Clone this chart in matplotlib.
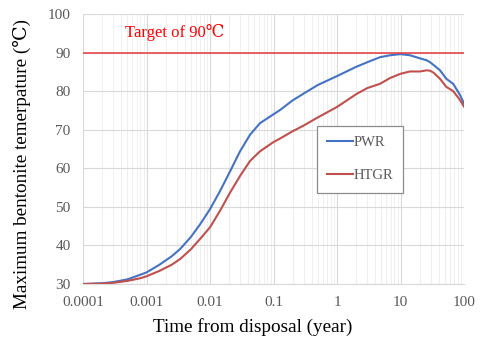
import numpy as np
import matplotlib.pyplot as plt
from matplotlib.ticker import FixedLocator, FixedFormatter, NullFormatter

plt.rcParams['font.family'] = ['Liberation Serif', 'DejaVu Serif', 'Noto Sans CJK JP']

# time (year) and max bentonite temperature (C)
t = [0.0001, 0.0002, 0.0003, 0.0005, 0.0008, 0.001, 0.0016, 0.0025, 0.0034,
     0.0050, 0.0070, 0.010, 0.0144, 0.0207, 0.0297, 0.0427, 0.0613, 0.1,
     0.1265, 0.2, 0.3, 0.5, 1, 2, 3, 4.75, 6.84, 10, 14.1, 20.3, 25.9,
     29.2, 33.1, 41.9, 52.7, 67.6, 86.5, 100]
pwr = [30.0, 30.2, 30.5, 31.2, 32.4, 33.0, 35.0, 37.2, 39.1,
       42.2, 45.5, 49.4, 54.1, 59.2, 64.4, 68.7, 71.7, 74.0,
       75.1, 77.6, 79.4, 81.6, 83.9, 86.3, 87.5, 88.8, 89.3, 89.6, 89.3, 88.5, 88.0,
       87.5, 86.8, 85.4, 83.2, 81.9, 79.0, 76.8]
htgr = [30.0, 30.1, 30.3, 30.8, 31.5, 32.0, 33.4, 35.0, 36.5,
        39.0, 41.7, 44.7, 49.0, 53.7, 58.0, 61.9, 64.4, 66.8,
        67.7, 69.6, 71.1, 73.2, 75.9, 79.2, 80.8, 81.9, 83.4, 84.5, 85.1, 85.1, 85.4,
        85.3, 84.8, 83.2, 81.1, 80.0, 77.7, 76.0]
target = 90

xticks = [0.0001, 0.001, 0.01, 0.1, 1, 10, 100]
xlabels = ['0.0001', '0.001', '0.01', '0.1', '1', '10', '100']
yticks = [30, 40, 50, 60, 70, 80, 90, 100]

fig = plt.figure(figsize=(4.88, 3.46), dpi=100)
ax = fig.add_axes([83/488, 1-284/346, (464-83)/488, (284-14)/346])

ax.set_xscale('log')
ax.set_xlim(0.0001, 100)
ax.set_ylim(30, 100)

ax.grid(True, which='major', color='#d9d9d9', lw=0.8)
ax.grid(True, which='minor', axis='x', color='#ececec', lw=0.6)
ax.set_axisbelow(True)

ax.plot(t, pwr, color='#4472C4', lw=1.5, label='PWR')
ax.plot(t, htgr, color='#C0504D', lw=1.5, label='HTGR')
ax.axhline(target, color='#E8383A', lw=1.1)
ax.text(0.00281, 95.1, 'Target of 90℃', color='#FF0000', fontsize=12, ha='center', va='center')

ax.xaxis.set_major_locator(FixedLocator(xticks))
ax.xaxis.set_major_formatter(FixedFormatter(xlabels))
ax.xaxis.set_minor_formatter(NullFormatter())
ax.set_yticks(yticks)
ax.tick_params(which='both', length=0, colors='#595959', labelsize=11)
ax.tick_params(axis='x', pad=9)
ax.tick_params(axis='y', pad=9)

for s in ['top', 'right', 'left']:
    ax.spines[s].set_visible(False)
ax.spines['bottom'].set_color('#d9d9d9')

ax.set_xlabel('Time from disposal (year)', fontsize=13.8)
ax.set_ylabel('Maximum bentonite temerpature (℃)', fontsize=13.8)
ax.xaxis.set_label_coords((253-83)/381, -(318-284)/270)
ax.yaxis.set_label_coords(-(83-31)/381, (284-164)/270)

leg = ax.legend(loc='upper left', bbox_to_anchor=((317-83)/381, (284-126)/270),
                fontsize=10.5, labelspacing=1.35, handlelength=1.75, handletextpad=0.05,
                borderpad=0.7, fancybox=False, framealpha=1, borderaxespad=0)
leg.get_frame().set_edgecolor('#8c8c8c')
leg.get_frame().set_linewidth(0.9)
for txt in leg.get_texts():
    txt.set_color('#595959')

fig.savefig('out.png', dpi=100)
